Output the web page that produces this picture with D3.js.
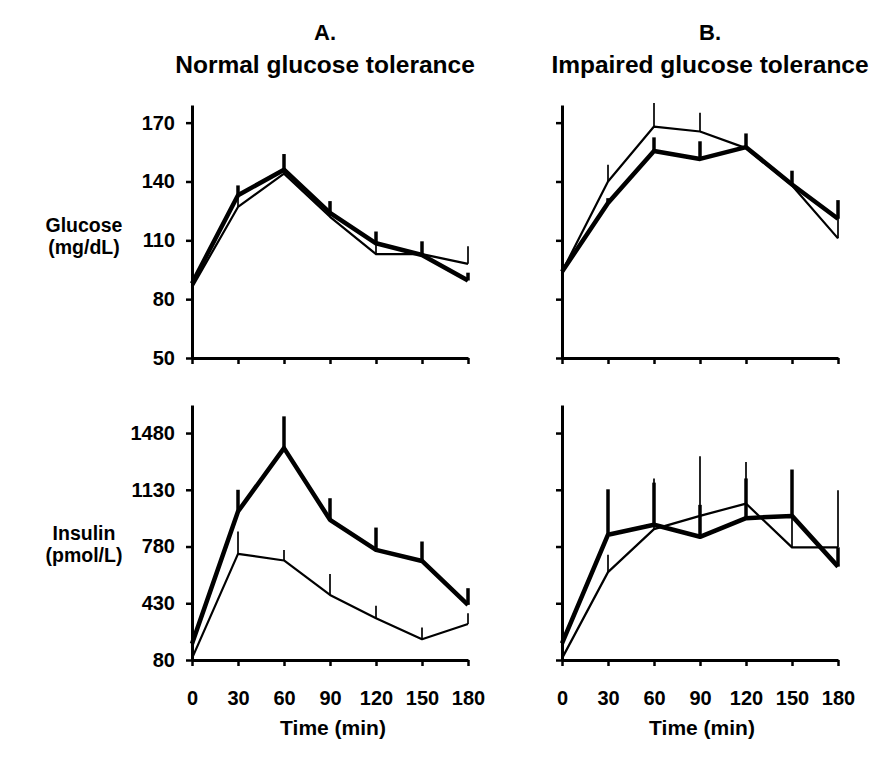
<!DOCTYPE html>
<html>
<head>
<meta charset="utf-8">
<script src="https://cdn.jsdelivr.net/npm/d3@7"></script>
<style>
  html, body { margin: 0; padding: 0; background: #fff; }
  svg { display: block; }
  text { font-family: "Liberation Sans", Arial, sans-serif; font-weight: bold; fill: #000; }
</style>
</head>
<body>
<svg id="chart" width="893" height="762"></svg>
<script>
// ---- Data ----
const times = [0, 30, 60, 90, 120, 150, 180];
const glucoseTicks = [50, 80, 110, 140, 170];
const insulinTicks = [80, 430, 780, 1130, 1480];
const columnTitles = ["A.", "B."];
const columnSubtitles = ["Normal glucose tolerance", "Impaired glucose tolerance"];
const rowLabels = [["Glucose", "(mg/dL)"], ["Insulin", "(pmol/L)"]];
const xAxisTitle = "Time (min)";

// Panel A, glucose
const ngtGlucoseBold = [88, 133, 146, 124, 108.5, 102.5, 89.5];
const ngtGlucoseBoldErr = [0, 5, 8, 6, 6, 7, 4];
const ngtGlucoseLight = [86, 127, 144, 122, 103, 103, 98];
const ngtGlucoseLightErr = [0, 7, 6, 5, 6, 5, 9];
// Panel B, glucose
const igtGlucoseBold = [94, 129, 155.5, 151.5, 157.5, 138.5, 121];
const igtGlucoseBoldErr = [0, 2.5, 7, 9, 7, 7, 9.5];
const igtGlucoseLight = [94, 140, 168, 165.5, 157, 138, 111];
const igtGlucoseLightErr = [0, 8.5, 12, 9.5, 5, 5, 13];
// Panel A, insulin
const ngtInsulinBold = [180, 996, 1387, 945, 759, 691, 420];
const ngtInsulinBoldErr = [0, 134, 196, 133, 138, 120, 103];
const ngtInsulinLight = [90, 735, 694, 481, 337, 208, 302];
const ngtInsulinLightErr = [0, 138, 65, 130, 77, 72, 66];
// Panel B, insulin
const igtInsulinBold = [182, 853, 914, 840, 955, 969, 656];
const igtInsulinBoldErr = [0, 280, 260, 197, 245, 286, 119];
const igtInsulinLight = [90, 622, 887, 969, 1045, 775, 775];
const igtInsulinLightErr = [0, 108, 313, 368, 257, 300, 352];

// ---- Layout ----
const colX = [[192, 468], [562, 838]];
const rowY = [[358, 105], [660, 405]];
const rowDomain = [[50, 179], [80, 1653]];
const rowTicks = [glucoseTicks, insulinTicks];

const panels = [
  {col: 0, row: 0, bold: ngtGlucoseBold, boldErr: ngtGlucoseBoldErr, light: ngtGlucoseLight, lightErr: ngtGlucoseLightErr},
  {col: 1, row: 0, bold: igtGlucoseBold, boldErr: igtGlucoseBoldErr, light: igtGlucoseLight, lightErr: igtGlucoseLightErr},
  {col: 0, row: 1, bold: ngtInsulinBold, boldErr: ngtInsulinBoldErr, light: ngtInsulinLight, lightErr: ngtInsulinLightErr},
  {col: 1, row: 1, bold: igtInsulinBold, boldErr: igtInsulinBoldErr, light: igtInsulinLight, lightErr: igtInsulinLightErr}
];

const svg = d3.select("#chart");

panels.forEach(p => {
  const x = d3.scaleLinear().domain([0, 180]).range(colX[p.col]);
  const y = d3.scaleLinear().domain(rowDomain[p.row]).range(rowY[p.row]);
  const g = svg.append("g");

  // axes
  const yAxis = d3.axisLeft(y).tickValues(rowTicks[p.row]).tickFormat(d3.format("d"))
    .tickSize(6).tickSizeOuter(0).tickPadding(11);
  const ya = g.append("g").attr("transform", `translate(${colX[p.col][0]},0)`).call(yAxis);
  if (p.col === 1) ya.selectAll("text").remove();

  const xAxis = d3.axisBottom(x).tickValues(times).tickFormat(d3.format("d"))
    .tickSize(6).tickSizeOuter(0).tickPadding(25);
  const xa = g.append("g").attr("transform", `translate(0,${rowY[p.row][0]})`).call(xAxis);
  if (p.row === 0) xa.selectAll("text").remove();

  [ya, xa].forEach(a => {
    a.select(".domain").attr("stroke", "#000").attr("stroke-width", 3);
    a.selectAll(".tick line").attr("stroke", "#000").attr("stroke-width", 2.5);
    a.selectAll(".tick text").style("font-size", "20px").attr("fill", "#000")
      .style("font-family", '"Liberation Sans", Arial, sans-serif').style("font-weight", "bold");
  });

  const line = d3.line().x((d, i) => x(times[i])).y(d => y(d));

  const series = [
    {vals: p.light, err: p.lightErr, lw: 2.2, ew: 1.7},
    {vals: p.bold, err: p.boldErr, lw: 4.5, ew: 3.5}
  ];
  series.forEach(s => {
    g.append("path").datum(s.vals).attr("d", line)
      .attr("fill", "none").attr("stroke", "#000").attr("stroke-width", s.lw)
      .attr("stroke-linejoin", "round");
  });
  series.forEach(s => {
    g.selectAll(null).data(s.vals.map((v, i) => ({t: times[i], v, e: s.err[i]})).filter(d => d.e > 0))
      .enter().append("line")
      .attr("x1", d => x(d.t)).attr("x2", d => x(d.t))
      .attr("y1", d => y(d.v)).attr("y2", d => y(d.v + d.e))
      .attr("stroke", "#000").attr("stroke-width", s.ew);
  });
});

// titles
const titleX = [325, 710];
columnTitles.forEach((t, i) => {
  svg.append("text").attr("x", titleX[i]).attr("y", 40).attr("text-anchor", "middle")
    .style("font-size", "22px").text(t);
  svg.append("text").attr("x", titleX[i]).attr("y", 73).attr("text-anchor", "middle")
    .style("font-size", "24.5px").text(columnSubtitles[i]);
});

// row labels
const rowLabelY = [[232, 254], [540, 562]];
rowLabels.forEach((lines, r) => {
  lines.forEach((t, k) => {
    svg.append("text").attr("x", 84).attr("y", rowLabelY[r][k]).attr("text-anchor", "middle")
      .style("font-size", "19.5px").text(t);
  });
});

// x axis titles
const xTitleX = [333, 702];
xTitleX.forEach(cx => {
  svg.append("text").attr("x", cx).attr("y", 735).attr("text-anchor", "middle")
    .style("font-size", "21px").text(xAxisTitle);
});
</script>
</body>
</html>
